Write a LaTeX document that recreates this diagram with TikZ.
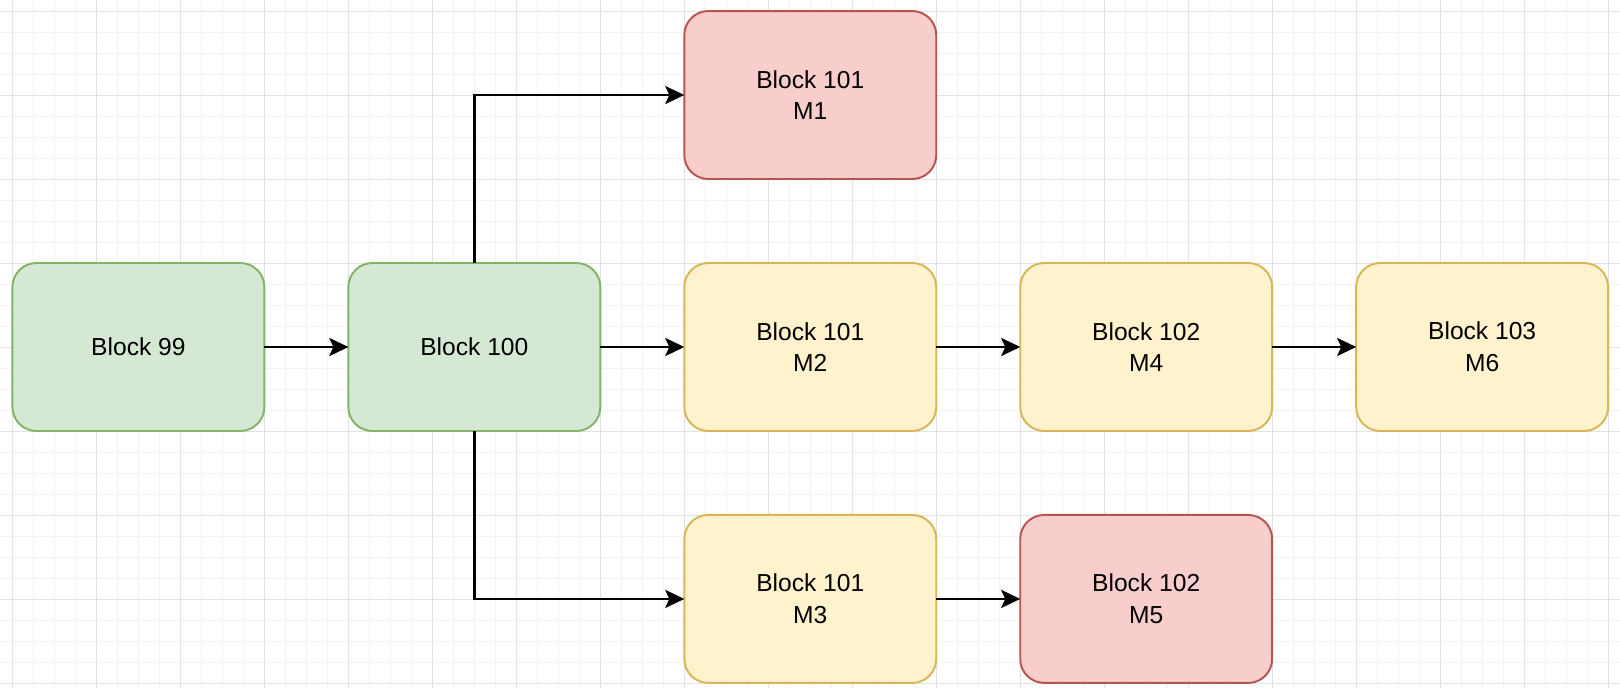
\documentclass[tikz,border=0pt]{standalone}
\usepackage{fontspec}
\setmainfont{Liberation Sans}
\usetikzlibrary{arrows.meta,positioning}

\definecolor{greenfill}{HTML}{D5E8D4}
\definecolor{greenline}{HTML}{82B366}
\definecolor{yellowfill}{HTML}{FFF2CC}
\definecolor{yellowline}{HTML}{D6B656}
\definecolor{redfill}{HTML}{F8CECC}
\definecolor{redline}{HTML}{B85450}
\definecolor{gridminor}{HTML}{F3F3F3}
\definecolor{gridmajor}{HTML}{E2E2E2}

\begin{document}
\begin{tikzpicture}[
    x=0.02cm, y=-0.02cm,
    node distance=1.68cm,
    >={Stealth[length=0.38cm, width=0.36cm, inset=0.08cm]},
    block/.style={rectangle, rounded corners=0.48cm, draw, line width=1.1pt, outer sep=0pt, minimum width=5.04cm, minimum height=3.36cm, align=center, font=\fontsize{14}{18}\selectfont},
    okblock/.style={block, fill=greenfill, draw=greenline},
    forkblock/.style={block, fill=yellowfill, draw=yellowline},
    orphan/.style={block, fill=redfill, draw=redline},
    link/.style={->, line width=1.6pt}
]
    \useasboundingbox (0,0) rectangle (1620,688);

    % background grid
    \begin{scope}[shift={(12.3,11.3)}]
        \draw[gridminor, line width=0.5pt, step=0.42cm] (-12.3,-11.3) grid (1607.7,676.7);
        \draw[gridmajor, line width=0.5pt, step=1.68cm] (-12.3,-11.3) grid (1607.7,676.7);
    \end{scope}

    \node[okblock] (b99) at (138.4,347) {Block 99};
    \node[okblock, right=of b99] (b100) {Block 100};
    \node[forkblock, right=of b100] (m2) {Block 101\\M2};
    \node[orphan, above=of m2] (m1) {Block 101\\M1};
    \node[forkblock, below=of m2] (m3) {Block 101\\M3};
    \node[forkblock, right=of m2] (m4) {Block 102\\M4};
    \node[forkblock, right=of m4] (m6) {Block 103\\M6};
    \node[orphan, right=of m3] (m5) {Block 102\\M5};

    \draw[link] (b99) -- (b100);
    \draw[link] (b100) -- (m2);
    \draw[link] (b100.north) |- (m1.west);
    \draw[link] (b100.south) |- (m3.west);
    \draw[link] (m2) -- (m4);
    \draw[link] (m4) -- (m6);
    \draw[link] (m3) -- (m5);
\end{tikzpicture}
\end{document}
